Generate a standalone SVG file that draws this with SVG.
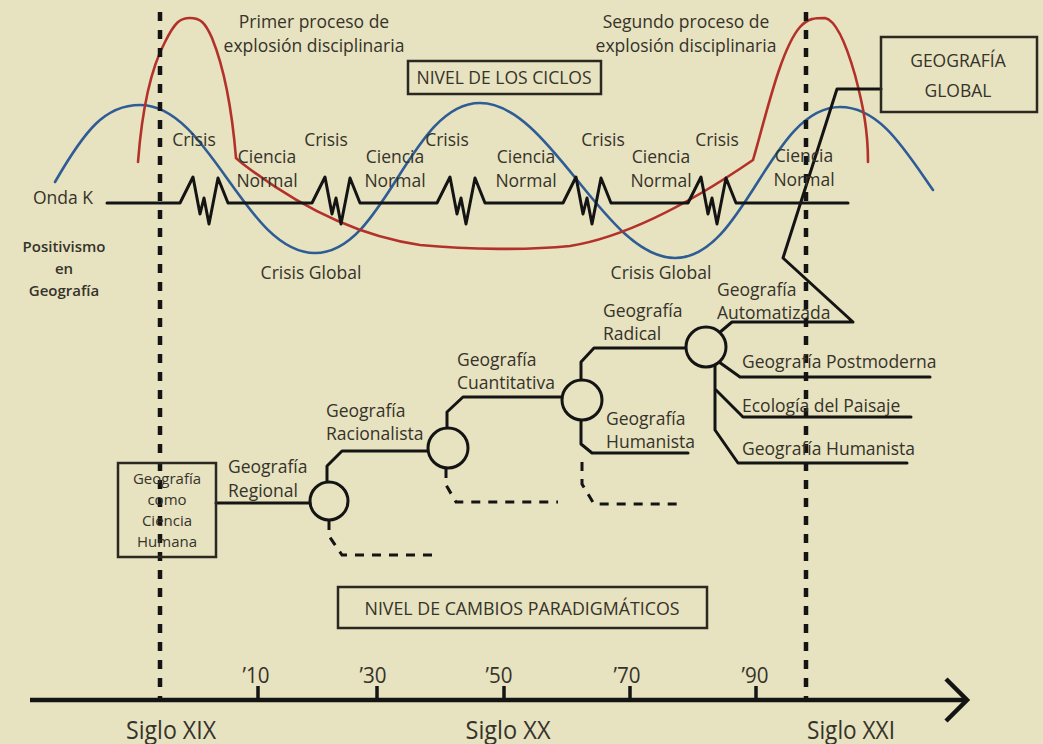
<svg xmlns="http://www.w3.org/2000/svg" width="1043" height="744" viewBox="0 0 1043 744">
<style>
.t{font-family:"Open Sans","Noto Sans","Liberation Sans",sans-serif;font-size:17.5px;font-weight:500;fill:#35332a}
.m{text-anchor:middle}
.sm{font-size:15px}
.pos{font-size:15px;font-weight:600}
.cond{font-size:25px}
.dec{font-size:21px}
.ln{fill:none;stroke:#141414;stroke-width:3;stroke-linejoin:round;stroke-linecap:round}
.dl{fill:none;stroke:#141414;stroke-width:3;stroke-dasharray:9 8}
.vd{fill:none;stroke:#141414;stroke-width:4.5;stroke-dasharray:9 9}
.bx{fill:none;stroke:#2a2820;stroke-width:2.5}
.ci{fill:#e7e2c0;stroke:#141414;stroke-width:3}
.blue{fill:none;stroke:#2e5c95;stroke-width:2.6;stroke-linecap:round}
.red{fill:none;stroke:#b2322b;stroke-width:2.6;stroke-linecap:round}
</style>
<rect width="1043" height="744" fill="#e7e2c0"/>

<g id="curves">
<path class="blue" d="M55,182 C85,130 105,105 140,105 C210,105 245,253 315,253 C385,253 410,103 480,103 C550,103 605,258 675,258 C745,258 770,107 840,107 C880,107 905,150 933,190"/>
<path class="red" d="M138,162 C142,110 150,70 165,42 C175,22 180,18 190,18 C200,18 205,22 212,38 C225,70 232,110 236,158 L243,164 C290,200 350,235 420,245 C470,250 530,250 570,246 C620,238 680,210 753,160 C765,120 780,50 800,27 C808,18 815,18 825,18 C835,20 845,40 855,75 C863,105 868,130 868,162"/>
</g>

<g id="timeline">
<path class="vd" d="M160,12 V700"/>
<path class="vd" d="M806,12 V700"/>
<path d="M30,700 H966" stroke="#141414" stroke-width="4.5" fill="none"/>
<path d="M946,679 L967,700 L946,721" stroke="#141414" stroke-width="4.5" fill="none" stroke-linejoin="miter"/>
<path d="M258,686 V700 M377,686 V700 M504,686 V700 M630,686 V700 M756,686 V700" stroke="#141414" stroke-width="3.5"/>
<g class="t dec m">
<text x="256" y="683" textLength="27" lengthAdjust="spacingAndGlyphs">’10</text>
<text x="373" y="683" textLength="27" lengthAdjust="spacingAndGlyphs">’30</text>
<text x="499" y="683" textLength="27" lengthAdjust="spacingAndGlyphs">’50</text>
<text x="627" y="683" textLength="27" lengthAdjust="spacingAndGlyphs">’70</text>
<text x="755" y="683" textLength="27" lengthAdjust="spacingAndGlyphs">’90</text>
</g>
<g class="t cond m">
<text x="171" y="739" textLength="90" lengthAdjust="spacingAndGlyphs">Siglo XIX</text>
<text x="508" y="739" textLength="85" lengthAdjust="spacingAndGlyphs">Siglo XX</text>
<text x="851" y="739" textLength="88" lengthAdjust="spacingAndGlyphs">Siglo XXI</text>
</g>
</g>

<g id="ondaK">
<path class="ln" d="M107,203 H180 l13,-26 l7,37 l4,-16 l5,26 l9,-46 l10,25 H312 l13,-26 l7,37 l4,-16 l5,26 l9,-46 l10,25 H437 l13,-26 l7,37 l4,-16 l5,26 l9,-46 l10,25 H563 l13,-26 l7,37 l4,-16 l5,26 l9,-46 l10,25 H688 l13,-26 l7,37 l4,-16 l5,26 l9,-46 l10,25 H848"/>
</g>

<g id="connectors">
<path class="ln" d="M216,503 H310"/>
<path class="ln" d="M327,481 V466 L342,451 H428"/>
<path class="dl" d="M329,521 V536 L342,555 H432"/>
<path class="ln" d="M447,428 V412 L463,397 H562"/>
<path class="dl" d="M446,469 V485 L456,502 H558"/>
<path class="ln" d="M581,380 V362 L594,348 H686"/>
<path class="ln" d="M581,420 V444 L592,453 H688"/>
<path class="dl" d="M582,462 V484 L594,504 H684"/>
<path class="ln" d="M719,333 L732,322 H853 L783,258 L837,89 H881"/>
<path class="ln" d="M719,362 L740,377 H930"/>
<path class="ln" d="M715,365 V430 L738,463 H907"/>
<path class="ln" d="M716,390 L743,417 H911"/>
</g>

<g id="labels-ciclos" class="t">
<g class="m">
<text x="314" y="28">Primer proceso de</text>
<text x="314" y="52">explosión disciplinaria</text>
<text x="686" y="28">Segundo proceso de</text>
<text x="686" y="52">explosión disciplinaria</text>
<text x="194" y="146">Crisis</text>
<text x="326" y="146">Crisis</text>
<text x="447" y="146">Crisis</text>
<text x="603" y="146">Crisis</text>
<text x="717" y="146">Crisis</text>
<text x="267" y="163">Ciencia</text><text x="267" y="187">Normal</text>
<text x="395" y="163">Ciencia</text><text x="395" y="187">Normal</text>
<text x="526" y="163">Ciencia</text><text x="526" y="187">Normal</text>
<text x="661" y="163">Ciencia</text><text x="661" y="187">Normal</text>
<text x="804" y="162">Ciencia</text><text x="804" y="186">Normal</text>
<text x="311" y="279">Crisis Global</text>
<text x="661" y="279">Crisis Global</text>
</g>
<text x="33" y="204">Onda K</text>
</g>

<g id="n-positivismo" class="t pos m">
<text x="64" y="252">Positivismo</text>
<text x="64" y="274">en</text>
<text x="64" y="296">Geografía</text>
</g>

<g id="n-ciclos">
<rect class="bx" x="408" y="61" width="193" height="33"/>
<text class="t m" x="504" y="84" font-size="15.5">NIVEL DE LOS CICLOS</text>
</g>

<g id="n-global">
<rect class="bx" x="881" y="37" width="156" height="75" fill="#e7e2c0"/>
<text class="t m" x="958" y="67" font-size="22">GEOGRAFÍA</text>
<text class="t m" x="958" y="97" font-size="22">GLOBAL</text>
</g>

<g id="n-cambios">
<rect class="bx" x="338" y="587" width="369" height="41"/>
<text class="t m" x="522" y="615" font-size="18" textLength="315" lengthAdjust="spacingAndGlyphs">NIVEL DE CAMBIOS PARADIGMÁTICOS</text>
</g>

<g id="n-ciencia-humana">
<rect class="bx" x="118" y="463" width="98" height="94"/>
<g class="t sm m">
<text x="167" y="484">Geografía</text>
<text x="167" y="505">como</text>
<text x="167" y="526">Ciencia</text>
<text x="167" y="547">Humana</text>
</g>
</g>

<g id="c1"><circle class="ci" cx="329" cy="501" r="19"/></g>
<g id="c2"><circle class="ci" cx="448" cy="448" r="20"/></g>
<g id="c3"><circle class="ci" cx="582" cy="400" r="20"/></g>
<g id="c4"><circle class="ci" cx="706" cy="347" r="20"/></g>

<g id="n-regional" class="t"><text x="228" y="473">Geografía</text><text x="228" y="497">Regional</text></g>
<g id="n-racionalista" class="t"><text x="326" y="417">Geografía</text><text x="326" y="440">Racionalista</text></g>
<g id="n-cuantitativa" class="t"><text x="457" y="366">Geografía</text><text x="457" y="389">Cuantitativa</text></g>
<g id="n-radical" class="t"><text x="603" y="317">Geografía</text><text x="603" y="340">Radical</text></g>
<g id="n-humanista1" class="t"><text x="606" y="425">Geografía</text><text x="606" y="448">Humanista</text></g>
<g id="n-automatizada" class="t"><text x="717" y="296">Geografía</text><text x="717" y="319">Automatizada</text></g>
<g id="n-postmoderna" class="t"><text x="742" y="368">Geografía Postmoderna</text></g>
<g id="n-ecologia" class="t"><text x="742" y="412">Ecología del Paisaje</text></g>
<g id="n-humanista2" class="t"><text x="742" y="455">Geografía Humanista</text></g>
</svg>
